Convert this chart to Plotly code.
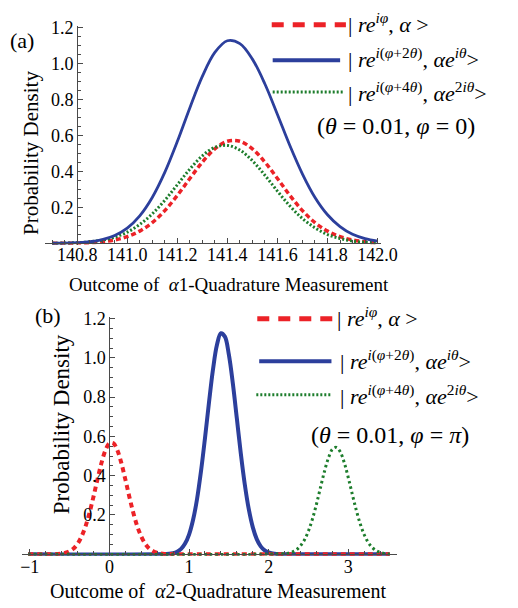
import plotly.graph_objects as go

W, H = 518, 608
FONT = "Liberation Serif"
RED, BLUE, GREEN = "#ec2227", "#2c3f9c", "#1d7d2c"
AXC = "#4a4a4a"

# ---------------- data: panel (a) ----------------
a_x = [140.70, 140.75, 140.80, 140.85, 140.90, 140.95, 141.00, 141.05, 141.10,
       141.15, 141.20, 141.25, 141.30, 141.35, 141.40, 141.45, 141.50, 141.55,
       141.60, 141.65, 141.70, 141.75, 141.80, 141.85, 141.90, 141.95, 142.00]
a_red = [0.0002, 0.0006, 0.0015, 0.0038, 0.0088, 0.019, 0.037, 0.068, 0.115,
         0.182, 0.266, 0.360, 0.451, 0.525, 0.567, 0.567, 0.525, 0.451,
         0.360, 0.266, 0.182, 0.115, 0.068, 0.037, 0.019, 0.0088, 0.0038]
a_blue = [0.0005, 0.0015, 0.004, 0.009, 0.021, 0.044, 0.085, 0.153, 0.255,
          0.394, 0.565, 0.752, 0.927, 1.060, 1.125, 1.109, 1.023, 0.885,
          0.716, 0.542, 0.385, 0.255, 0.159, 0.093, 0.050, 0.026, 0.012]
a_green = [0.0006, 0.0016, 0.0038, 0.0085, 0.018, 0.034, 0.062, 0.105, 0.164,
           0.239, 0.325, 0.412, 0.486, 0.533, 0.544, 0.518, 0.459, 0.378,
           0.290, 0.207, 0.138, 0.086, 0.049, 0.027, 0.013, 0.006, 0.003]
a_xticks = [140.8, 141.0, 141.2, 141.4, 141.6, 141.8, 142.0]
a_xticktext = ["140.8", "141.0", "141.2", "141.4", "141.6", "141.8", "142.0"]
a_yticks = [0.2, 0.4, 0.6, 0.8, 1.0, 1.2]
a_yticktext = ["0.2", "0.4", "0.6", "0.8", "1.0", "1.2"]

# ---------------- data: panel (b) ----------------
b_red_x = [-1.02, -0.70, -0.65, -0.60, -0.55, -0.50, -0.45, -0.40, -0.35, -0.30,
           -0.25, -0.20, -0.15, -0.10, -0.05, 0.00, 0.05, 0.10, 0.15, 0.20,
           0.25, 0.30, 0.35, 0.40, 0.45, 0.50, 0.55, 0.60, 0.65, 0.70, 0.75, 3.52]
b_red = [0.0, 0.0006, 0.0014, 0.0033, 0.0074, 0.015, 0.029, 0.053, 0.090, 0.142,
         0.211, 0.293, 0.381, 0.464, 0.529, 0.565, 0.565, 0.529, 0.464, 0.381,
         0.293, 0.211, 0.142, 0.090, 0.053, 0.029, 0.015, 0.0074, 0.0033, 0.0014, 0.0006, 0.0]
b_blue_x = [-1.02, 0.75, 0.80, 0.85, 0.90, 0.95, 1.00, 1.05, 1.10, 1.15, 1.20,
            1.25, 1.30, 1.35, 1.40, 1.45, 1.50, 1.55, 1.60, 1.65, 1.70, 1.75,
            1.80, 1.85, 1.90, 1.95, 2.00, 2.05, 2.10, 3.52]
b_blue = [0.0, 0.0022, 0.0055, 0.0126, 0.027, 0.054, 0.100, 0.174, 0.280, 0.422, 0.591,
          0.771, 0.939, 1.065, 1.125, 1.108, 1.016, 0.869, 0.692, 0.513, 0.355, 0.229,
          0.138, 0.077, 0.040, 0.0195, 0.0088, 0.0037, 0.0015, 0.0]
b_green_x = [-1.02, 2.20, 2.25, 2.30, 2.35, 2.40, 2.45, 2.50, 2.55, 2.60, 2.65,
             2.70, 2.75, 2.80, 2.85, 2.90, 2.95, 3.00, 3.05, 3.10, 3.15, 3.20,
             3.25, 3.30, 3.35, 3.40, 3.45, 3.50, 3.52]
b_green = [0.0, 0.0025, 0.0056, 0.0118, 0.023, 0.043, 0.074, 0.119, 0.180, 0.255, 0.339,
           0.421, 0.490, 0.534, 0.544, 0.520, 0.465, 0.389, 0.305, 0.224, 0.154, 0.099,
           0.060, 0.034, 0.018, 0.0088, 0.0041, 0.0018, 0.0]
b_xticks = [-1, 0, 1, 2, 3]
b_yticks = [0.2, 0.4, 0.6, 0.8, 1.0, 1.2]
b_yticktext = ["0.2", "0.4", "0.6", "0.8", "1.0", "1.2"]

legend_labels = [
    "| <i>re</i><sup><i>iφ</i></sup>, <i>α</i> &gt;",
    "| <i>re</i><sup><i>i</i>(<i>φ</i>+2<i>θ</i>)</sup>, <i>αe</i><sup><i>iθ</i></sup>&gt;",
    "| <i>re</i><sup><i>i</i>(<i>φ</i>+4<i>θ</i>)</sup>, <i>αe</i><sup>2<i>iθ</i></sup>&gt;",
]
param_a = "(<i>θ</i> = 0.01, <i>φ</i> = 0)"
param_b = "(<i>θ</i> = 0.01, <i>φ</i> = <i>π</i>)"


def px(x):
    return x / W


def py(y):
    return 1 - y / H


fig = go.Figure()

# panel (a)
fig.add_trace(go.Scatter(x=a_x, y=a_red, mode="lines", xaxis="x", yaxis="y",
                         line=dict(color=RED, width=3.5, dash="5px,3px", shape="spline")))
fig.add_trace(go.Scatter(x=a_x, y=a_green, mode="lines", xaxis="x", yaxis="y",
                         line=dict(color=GREEN, width=3, dash="2px,2px", shape="spline")))
fig.add_trace(go.Scatter(x=a_x, y=a_blue, mode="lines", xaxis="x", yaxis="y",
                         line=dict(color=BLUE, width=2.8, shape="spline")))
# panel (b)
fig.add_trace(go.Scatter(x=b_blue_x, y=b_blue, mode="lines", xaxis="x2", yaxis="y2",
                         line=dict(color=BLUE, width=4, shape="spline", smoothing=1)))
fig.add_trace(go.Scatter(x=b_red_x, y=b_red, mode="lines", xaxis="x2", yaxis="y2",
                         line=dict(color=RED, width=4, dash="5px,4px", shape="spline", smoothing=1)))
fig.add_trace(go.Scatter(x=b_green_x, y=b_green, mode="lines", xaxis="x2", yaxis="y2",
                         line=dict(color=GREEN, width=3, dash="2.5px,3px", shape="spline", smoothing=1)))

# geometry (pixels)
A_X0, A_X1, A_XMIN, A_XMAX = 45, 393, 140.673, 142.012
A_Y0PX, A_PXPU, A_TOP, A_BOT = 238.5, 182.5, 18, 240
B_X0, B_X1, B_XMIN, B_XMAX = 21, 410, -1.0947, 3.6107
B_Y0PX, B_PXPU, B_TOP, B_BOT = 553.5, 199.0, 313, 555


def yr(y0px, pxpu, top, bot):
    return [(y0px - bot) / pxpu, (y0px - top) / pxpu]


def xpos(v, x0, x1, lo, hi):
    return px(x0 + (v - lo) / (hi - lo) * (x1 - x0))


TICKFONT = dict(family=FONT, size=18, color="black")
common = dict(showgrid=False, zeroline=False, showline=True, linecolor=AXC, linewidth=1,
              ticks="inside", ticklen=5, tickwidth=1, tickcolor=AXC, tickfont=TICKFONT,
              anchor="free")

fig.update_layout(
    width=W, height=H, margin=dict(l=0, r=0, t=0, b=0),
    paper_bgcolor="white", plot_bgcolor="rgba(0,0,0,0)", showlegend=False,
    xaxis=dict(domain=[px(A_X0), px(A_X1)], range=[A_XMIN, A_XMAX],
               position=py(A_Y0PX), tickmode="array", tickvals=a_xticks, ticktext=a_xticktext,
               ticklabelstandoff=-5,
               minor=dict(ticks="inside", ticklen=3, dtick=0.05, tick0=140.8, tickcolor=AXC),
               **common),
    yaxis=dict(domain=[py(A_BOT), py(A_TOP)], range=yr(A_Y0PX, A_PXPU, A_TOP, A_BOT),
               position=xpos(140.8, A_X0, A_X1, A_XMIN, A_XMAX),
               tickmode="array", tickvals=a_yticks, ticktext=a_yticktext,
               minor=dict(ticks="inside", ticklen=3, dtick=0.05, tick0=0, tickcolor=AXC),
               **common),
    xaxis2=dict(domain=[px(B_X0), px(B_X1)], range=[B_XMIN, B_XMAX],
                position=py(B_Y0PX), tickmode="array", tickvals=b_xticks,
                ticklabelstandoff=-4,
                minor=dict(ticks="inside", ticklen=3, dtick=0.2, tick0=0, tickcolor=AXC),
                **common),
    yaxis2=dict(domain=[py(B_BOT), py(B_TOP)], range=yr(B_Y0PX, B_PXPU, B_TOP, B_BOT),
                position=xpos(0, B_X0, B_X1, B_XMIN, B_XMAX),
                tickmode="array", tickvals=b_yticks, ticktext=b_yticktext,
                minor=dict(ticks="inside", ticklen=3, dtick=0.05, tick0=0, tickcolor=AXC),
                **common),
)

ann = []


def text(x, y, s, size, xanchor="center", angle=0):
    ann.append(dict(x=px(x), y=py(y), xref="paper", yref="paper", text=s, showarrow=False,
                    xanchor=xanchor, yanchor="middle", textangle=angle,
                    font=dict(family=FONT, size=size, color="black")))


text(21, 33, "(a)", 22)
text(48, 312, "(b)", 22)
text(30, 147, "Probability Density", 21, angle=-90)
text(62, 422, "Probability Density", 23, angle=-90)
text(236, 280, "Outcome of  <i>α</i>1-Quadrature Measurement", 19)
text(224, 591, "Outcome of  <i>α</i>2-Quadrature Measurement", 20)

# legend (a)
text(357, 15, legend_labels[0], 22, xanchor="left")
text(357, 51, legend_labels[1], 22, xanchor="left")
text(357, 85, legend_labels[2], 22, xanchor="left")
text(409, 120, param_a, 24)
# legend (b)
text(346, 313, legend_labels[0], 22, xanchor="left")
text(349, 357, legend_labels[1], 22, xanchor="left")
text(349, 392, legend_labels[2], 22, xanchor="left")
text(403, 433, param_b, 24)

fig.update_layout(annotations=ann)

shapes = []


def seg(x0, x1, y, color, width, dash):
    shapes.append(dict(type="line", xref="paper", yref="paper", x0=px(x0), x1=px(x1),
                       y0=py(y), y1=py(y), line=dict(color=color, width=width, dash=dash)))


seg(280, 357, 17, RED, 5, "12px,9px")
seg(281, 351, 53, BLUE, 4, "solid")
seg(281, 355, 85, GREEN, 3, "2px,2px")
seg(265, 345, 315, RED, 5, "12px,9px")
seg(267, 342, 358, BLUE, 4, "solid")
seg(264, 342, 392, GREEN, 3, "2px,2px")
fig.update_layout(shapes=shapes)

fig.write_html("out.html", config={"displayModeBar": False},
               post_script="document.body.style.margin='0';document.body.style.overflow='hidden';")
